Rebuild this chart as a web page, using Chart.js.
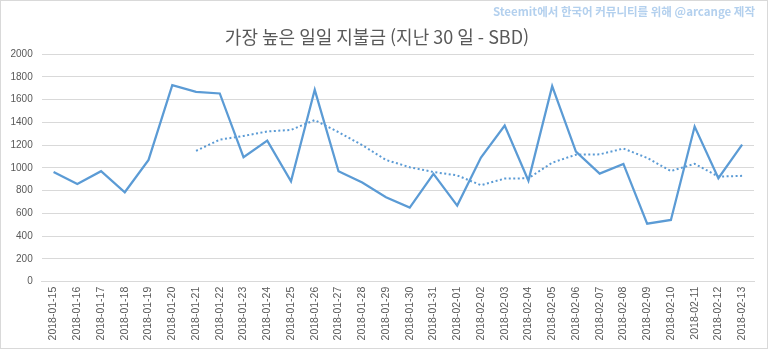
<!DOCTYPE html>
<html lang="ko">
<head>
    <meta charset="UTF-8">
    <title>가장 높은 일일 지불금</title>
    <script src="https://cdn.jsdelivr.net/npm/chart.js"></script>
    <style>
        html, body { margin: 0; padding: 0; background: #fff; }
        .chart-box { width: 768px; height: 349px; }
    </style>
</head>
<body>
    <div class="chart-box">
        <canvas id="payout-chart"></canvas>
    </div>

    <script>
        // Dates (last 30 days)
        const days = [
            '2018-01-15', '2018-01-16', '2018-01-17', '2018-01-18', '2018-01-19', '2018-01-20',
            '2018-01-21', '2018-01-22', '2018-01-23', '2018-01-24', '2018-01-25', '2018-01-26',
            '2018-01-27', '2018-01-28', '2018-01-29', '2018-01-30', '2018-01-31', '2018-02-01',
            '2018-02-02', '2018-02-03', '2018-02-04', '2018-02-05', '2018-02-06', '2018-02-07',
            '2018-02-08', '2018-02-09', '2018-02-10', '2018-02-11', '2018-02-12', '2018-02-13'
        ];

        // Highest daily payout (SBD)
        const payouts = [
            965, 859, 971, 786, 1070, 1727,
            1668, 1654, 1094, 1240, 883, 1686,
            971, 871, 742, 651, 947, 669,
            1091, 1372, 888, 1718, 1143, 950,
            1035, 510, 543, 1363, 909, 1205
        ];

        // Dotted trend line
        const trend = [
            null, null, null, null, null, null,
            1150, 1248, 1281, 1320, 1334, 1420,
            1314, 1200, 1070, 1006, 964, 934,
            848, 906, 909, 1046, 1116, 1119,
            1170, 1088, 972, 1036, 924, 930
        ];

        const yTicks = [0, 200, 400, 600, 800, 1000, 1200, 1400, 1600, 1800, 2000];

        const gridGray = '#d9d9d9';
        const textGray = '#595959';
        const lineBlue = '#5b9bd5';

        // white background, outer frame and the small credit line
        const frame = {
            id: 'frame',
            beforeDraw(chart) {
                const c = chart.ctx;
                c.save();
                c.fillStyle = '#fff';
                c.fillRect(0, 0, chart.width, chart.height);
                c.restore();
            },
            afterDraw(chart) {
                const c = chart.ctx;
                c.save();
                c.strokeStyle = gridGray;
                c.lineWidth = 1;
                c.strokeRect(0.5, 0.5, chart.width - 1, chart.height - 1);
                c.font = '600 11.5px "Noto Sans CJK KR"';
                c.fillStyle = '#b3d0ee';
                c.textAlign = 'right';
                c.textBaseline = 'middle';
                c.fillText('Steemit에서 한국어 커뮤니티를 위해 @arcange 제작', 755, 12);
                c.restore();
            }
        };

        new Chart(document.getElementById('payout-chart'), {
            type: 'line',
            data: {
                labels: days,
                datasets: [{
                    label: 'SBD',
                    data: payouts,
                    borderColor: lineBlue,
                    borderWidth: 2.25,
                    pointRadius: 0,
                    tension: 0
                }, {
                    label: 'trend',
                    data: trend,
                    borderColor: lineBlue,
                    borderWidth: 2,
                    borderDash: [2, 2.5],
                    pointRadius: 0,
                    tension: 0
                }]
            },
            options: {
                responsive: true,
                maintainAspectRatio: false,
                animation: false,
                layout: { padding: { top: 0, left: 0, right: 14, bottom: 0 } },
                plugins: {
                    legend: { display: false },
                    tooltip: { enabled: false },
                    title: {
                        display: true,
                        text: '가장 높은 일일 지불금 (지난 30 일 - SBD)',
                        color: textGray,
                        font: { family: '"Noto Sans CJK KR"', size: 18, weight: 'normal' },
                        padding: { top: 26, bottom: 6.5 }
                    }
                },
                scales: {
                    x: {
                        offset: true,
                        grid: { display: false, drawTicks: false },
                        border: { display: true, color: gridGray },
                        ticks: {
                            autoSkip: false,
                            minRotation: 90,
                            maxRotation: 90,
                            padding: 5,
                            color: textGray,
                            font: { family: '"Liberation Sans"', size: 10.5 }
                        },
                        afterFit(scale) { scale.height = 67.3; }
                    },
                    y: {
                        min: 0,
                        max: 2000,
                        grid: { color: gridGray, drawTicks: false },
                        border: { display: false },
                        afterBuildTicks(scale) {
                            scale.ticks = yTicks.map(v => ({ value: v }));
                        },
                        ticks: {
                            padding: 9,
                            color: textGray,
                            font: { family: '"Liberation Sans"', size: 10 },
                            callback: v => String(v)
                        },
                        afterFit(scale) { scale.width = 41.7; }
                    }
                }
            },
            plugins: [frame]
        });
    </script>
</body>
</html>
